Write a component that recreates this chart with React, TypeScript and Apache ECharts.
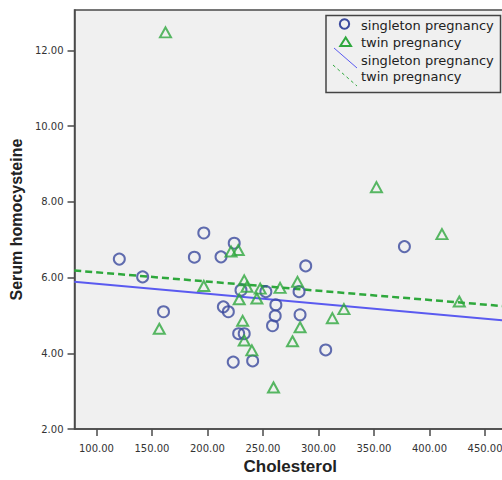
import React, { useEffect, useRef } from "react";
import * as echarts from "echarts";

const xTicks = [100, 150, 200, 250, 300, 350, 400, 450];
const yTicks = [2, 4, 6, 8, 10, 12];

const seriesNames = ["singleton pregnancy", "twin pregnancy"];

const singletonPoints = [
  [120.6, 6.49],
  [141.6, 6.02],
  [160.4, 5.1],
  [188.2, 6.54],
  [196.7, 7.18],
  [212.2, 6.55],
  [224.1, 6.91],
  [214.3, 5.23],
  [218.8, 5.1],
  [230.2, 5.67],
  [252.6, 5.63],
  [228.1, 4.52],
  [233.1, 4.52],
  [223.2, 3.77],
  [240.7, 3.8],
  [261.6, 5.28],
  [261.0, 4.99],
  [258.6, 4.73],
  [288.5, 6.31],
  [282.5, 5.63],
  [283.4, 5.02],
  [306.5, 4.09],
  [377.4, 6.82],
];

const twinPoints = [
  [162.2, 12.48],
  [352.2, 8.39],
  [411.2, 7.15],
  [156.6, 4.65],
  [196.7, 5.78],
  [221.2, 6.69],
  [227.7, 6.73],
  [233.1, 5.93],
  [228.6, 5.43],
  [244.5, 5.45],
  [247.5, 5.71],
  [235.6, 5.76],
  [265.4, 5.73],
  [281.1, 5.89],
  [231.7, 4.86],
  [233.1, 4.34],
  [240.0, 4.08],
  [259.5, 3.1],
  [283.4, 4.69],
  [276.6, 4.32],
  [312.5, 4.93],
  [322.9, 5.17],
  [426.8, 5.37],
];

const singletonFit = [
  [80, 5.89],
  [470, 4.86],
];
const twinFit = [
  [80, 6.19],
  [470, 5.24],
];

const circleColor = "#3b4a9e";
const triColor = "#2fa83e";
const fitBlue = "#5a5af0";
const fitGreen = "#2ea83c";
const axisColor = "#4a4a4a";
const font = "DejaVu Sans";
const titleFont = "Liberation Sans";

export default function App() {
  const ref = useRef<HTMLDivElement>(null);

  useEffect(() => {
    if (!ref.current) return;
    const chart = echarts.init(ref.current, null, { renderer: "svg" });
    const legendRows = [25, 42.3, 60, 76.7];
    chart.setOption({
      animation: false,
      backgroundColor: "#ffffff",
      grid: {
        left: 73,
        top: 10,
        right: 6,
        bottom: 45.5,
        show: true,
        backgroundColor: "#f0f0f0",
        borderColor: axisColor,
        borderWidth: 1.5,
      },
      xAxis: {
        type: "value",
        min: 80.26,
        max: 468.9,
        name: "Cholesterol",
        nameLocation: "middle",
        nameGap: 19,
        nameTextStyle: { fontFamily: titleFont, fontWeight: "bold", fontSize: 17, color: "#222" },
        axisLine: { show: true, lineStyle: { color: axisColor, width: 1.5 } },
        axisTick: { show: true, length: 7, customValues: xTicks, lineStyle: { color: axisColor, width: 1.5 } },
        axisLabel: {
          customValues: xTicks,
          formatter: (v: number) => v.toFixed(2),
          fontFamily: font,
          fontSize: 10,
          color: "#333",
          margin: 14,
        },
        splitLine: { show: false },
      },
      yAxis: {
        type: "value",
        min: 2,
        max: 13.07,
        name: "Serum homocysteine",
        nameLocation: "middle",
        nameGap: 42,
        nameRotate: 90,
        nameTextStyle: { fontFamily: titleFont, fontWeight: "bold", fontSize: 16, color: "#222" },
        axisLine: { show: true, lineStyle: { color: axisColor, width: 1.5 } },
        axisTick: { show: true, length: 7, customValues: yTicks, lineStyle: { color: axisColor, width: 1.5 } },
        axisLabel: {
          customValues: yTicks,
          formatter: (v: number) => v.toFixed(2),
          fontFamily: font,
          fontSize: 10,
          color: "#333",
          margin: 11,
        },
        splitLine: { show: false },
      },
      series: [
        {
          name: seriesNames[0],
          type: "scatter",
          data: singletonPoints,
          symbol: "circle",
          symbolSize: 11,
          itemStyle: { color: "rgba(0,0,0,0)", borderColor: circleColor, borderWidth: 2 },
        },
        {
          name: seriesNames[1],
          type: "scatter",
          data: twinPoints,
          symbol: "triangle",
          symbolSize: [11, 10],
          itemStyle: { color: "rgba(0,0,0,0)", borderColor: triColor, borderWidth: 2 },
        },
        {
          name: seriesNames[0] + " fit",
          type: "line",
          data: singletonFit,
          showSymbol: false,
          symbol: "none",
          lineStyle: { color: fitBlue, width: 2 },
          z: 1,
        },
        {
          name: seriesNames[1] + " fit",
          type: "line",
          data: twinFit,
          showSymbol: false,
          symbol: "none",
          lineStyle: { color: fitGreen, width: 2.5, type: [7, 4] },
          z: 1,
        },
      ],
      graphic: [
        {
          type: "rect",
          z: 100,
          shape: { x: 326, y: 15.5, width: 174.5, height: 77 },
          style: { fill: "#f0f0f0", stroke: "#444", lineWidth: 1.5 },
        },
        {
          type: "circle",
          z: 101,
          shape: { cx: 344.5, cy: 24, r: 4.7 },
          style: { fill: "none", stroke: circleColor, lineWidth: 2 },
        },
        {
          type: "polygon",
          z: 101,
          shape: { points: [[345.7, 37.5], [351, 46], [340.3, 46]] },
          style: { fill: "none", stroke: triColor, lineWidth: 2 },
        },
        {
          type: "line",
          z: 101,
          shape: { x1: 334, y1: 48, x2: 357, y2: 68 },
          style: { stroke: fitBlue, lineWidth: 1 },
        },
        {
          type: "line",
          z: 101,
          shape: { x1: 333, y1: 65, x2: 357, y2: 86 },
          style: { stroke: fitGreen, lineWidth: 1, lineDash: [3, 3] },
        },
        ...[seriesNames[0], seriesNames[1], seriesNames[0], seriesNames[1]].map((t, i) => ({
          type: "text",
          z: 101,
          x: 361,
          y: legendRows[i],
          style: {
            text: t,
            fill: "#222",
            fontSize: 13,
            fontFamily: font,
            verticalAlign: "middle",
          },
        })),
      ],
    });
    return () => chart.dispose();
  }, []);

  return (
    <div
      style={{
        position: "absolute",
        left: 0,
        top: 0,
        width: 502,
        height: 480,
        overflow: "hidden",
        background: "#fff",
      }}
    >
      <div ref={ref} style={{ width: 512, height: 480 }} />
    </div>
  );
}
